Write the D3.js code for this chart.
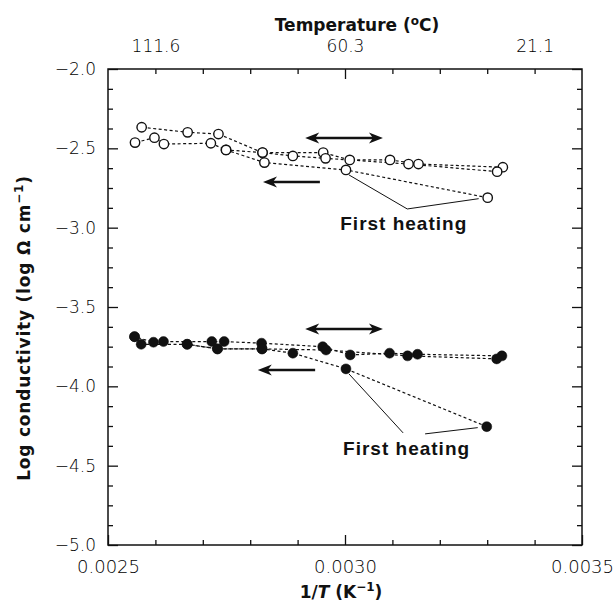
<!DOCTYPE html>
<html>
<head>
<meta charset="utf-8">
<script src="https://cdn.jsdelivr.net/npm/d3@7"></script>
<style>
  body { margin: 0; background: #fff; }
  .title { font-family: 'DejaVu Sans', sans-serif; font-weight: bold; fill: #111; }
  .note { font-family: 'Liberation Sans', sans-serif; font-weight: bold; fill: #111; }
</style>
</head>
<body>
<svg width="616" height="603"></svg>
<script>
// Open circles (upper set), three runs, read right to left
const openRun1X = [0.003301, 0.003002, 0.002830, 0.002749, 0.002717, 0.002618, 0.002598, 0.002557],
      openRun1Y = [-2.811, -2.636, -2.590, -2.510, -2.468, -2.473, -2.433, -2.464];
const openRun2X = [0.003333, 0.003155, 0.003095, 0.003010, 0.002954, 0.002826, 0.002733, 0.002668, 0.002571],
      openRun2Y = [-2.619, -2.599, -2.573, -2.573, -2.527, -2.527, -2.410, -2.399, -2.367];
const openRun3X = [0.003321, 0.003134, 0.002959, 0.002890, 0.002826, 0.002749],
      openRun3Y = [-2.647, -2.599, -2.563, -2.548, -2.527, -2.510];

// Filled circles (lower set)
const fillRun1X = [0.003299, 0.003002, 0.002890, 0.002825, 0.002731, 0.002667, 0.002570, 0.002556],
      fillRun1Y = [-4.254, -3.890, -3.791, -3.764, -3.764, -3.735, -3.735, -3.687];
const fillRun2X = [0.003331, 0.003153, 0.003094, 0.003011, 0.002953, 0.002824, 0.002745, 0.002719, 0.002617, 0.002596, 0.002556],
      fillRun2Y = [-3.808, -3.798, -3.791, -3.802, -3.750, -3.728, -3.718, -3.718, -3.718, -3.722, -3.687];
const fillRun3X = [0.003320, 0.003132, 0.002960, 0.002825, 0.002731, 0.002667],
      fillRun3Y = [-3.827, -3.808, -3.771, -3.764, -3.764, -3.735];

// Tick labels
const xTickValues = [0.0025, 0.0030, 0.0035],
      xTickLabels = ['0.0025', '0.0030', '0.0035'];
const yTickValues = [-2.0, -2.5, -3.0, -3.5, -4.0, -4.5, -5.0],
      yTickLabels = ['\u22122.0', '\u22122.5', '\u22123.0', '\u22123.5', '\u22124.0', '\u22124.5', '\u22125.0'];
const topTickValues = [0.0026, 0.0030, 0.0034],
      topTickLabels = ['111.6', '60.3', '21.1'];

// Annotations (data units)
const arrowsDouble = [[0.002916, 0.003080, -2.435], [0.002916, 0.003080, -3.638]],
      arrowsLeft = [[0.002947, 0.002827, -2.712], [0.002937, 0.002816, -3.897]];
const noteText = 'First heating',
      noteAt = [[0.002990, -3.0145], [0.002996, -4.432]];

const svg = d3.select('svg');
const plotL = 108, plotR = 582, plotT = 69, plotB = 545;

const x = d3.scaleLinear().domain([0.0025, 0.0035]).range([plotL, plotR]);
const y = d3.scaleLinear().domain([-5, -2]).range([plotB, plotT]);

// minor / major tick positions
const xMinor = d3.range(26, 35).map(d => d / 10000).filter(d => Math.abs(d - 0.003) > 1e-9);
const yMinor = d3.range(-40, -16).map(d => d / 8).filter(d => d % 0.5 !== 0);

function tickAxis(axis, tr) {
	const g = svg.append('g').attr('transform', tr).call(axis);
	g.select('.domain').remove();
	g.selectAll('line').attr('stroke', '#111').attr('stroke-width', 1.3);
	g.selectAll('text')
		.attr('fill', '#000')
		.attr('font-family', "'DejaVu Sans', sans-serif")
		.attr('font-weight', 300);
	return g;
}

// bottom ticks (inward)
tickAxis(d3.axisBottom(x).tickValues(xMinor).tickSize(-5).tickFormat(''), `translate(0,${plotB})`);
tickAxis(d3.axisBottom(x).tickValues(xTickValues).tickSize(-10)
	.tickFormat((d, i) => xTickLabels[i]), `translate(0,${plotB})`)
	.selectAll('text').attr('font-size', 18).attr('dy', '0.71em').attr('y', 15);

// top ticks
tickAxis(d3.axisTop(x).tickValues(xMinor).tickSize(-5).tickFormat(''), `translate(0,${plotT})`);
tickAxis(d3.axisTop(x).tickValues([0.003]).tickSize(-10).tickFormat(''), `translate(0,${plotT})`);
tickAxis(d3.axisTop(x).tickValues(topTickValues).tickSize(0).tickPadding(17)
	.tickFormat((d, i) => topTickLabels[i]), `translate(0,${plotT})`)
	.selectAll('text').attr('font-size', 17);

// left ticks
tickAxis(d3.axisLeft(y).tickValues(yMinor).tickSize(-5).tickFormat(''), `translate(${plotL},0)`);
tickAxis(d3.axisLeft(y).tickValues(yTickValues).tickSize(-10)
	.tickFormat((d, i) => yTickLabels[i]), `translate(${plotL},0)`)
	.selectAll('text').attr('font-size', 17).attr('x', -12);

// right ticks
tickAxis(d3.axisRight(y).tickValues(yMinor).tickSize(-5).tickFormat(''), `translate(${plotR},0)`);
tickAxis(d3.axisRight(y).tickValues(yTickValues).tickSize(-10).tickFormat(''), `translate(${plotR},0)`);

// frame
svg.append('rect')
	.attr('x', plotL).attr('y', plotT)
	.attr('width', plotR - plotL).attr('height', plotB - plotT)
	.attr('fill', 'none').attr('stroke', '#111').attr('stroke-width', 1.5);

// series
const series = [
	{ xs: openRun1X, ys: openRun1Y, filled: false },
	{ xs: openRun2X, ys: openRun2Y, filled: false },
	{ xs: openRun3X, ys: openRun3Y, filled: false },
	{ xs: fillRun1X, ys: fillRun1Y, filled: true },
	{ xs: fillRun2X, ys: fillRun2Y, filled: true },
	{ xs: fillRun3X, ys: fillRun3Y, filled: true }
];

const line = d3.line().x(d => x(d[0])).y(d => y(d[1]));

series.forEach(s => {
	const pts = s.xs.map((v, i) => [v, s.ys[i]]);
	svg.append('path')
		.attr('d', line(pts))
		.attr('fill', 'none')
		.attr('stroke', '#111')
		.attr('stroke-width', 1.2)
		.attr('stroke-dasharray', '3,2.5');
});

series.forEach(s => {
	const pts = s.xs.map((v, i) => [v, s.ys[i]]);
	svg.append('g').selectAll('circle')
		.data(pts)
		.enter()
		.append('circle')
		.attr('cx', d => x(d[0]))
		.attr('cy', d => y(d[1]))
		.attr('r', s.filled ? 5 : 4.7)
		.attr('fill', s.filled ? '#111' : '#fff')
		.attr('stroke', '#111')
		.attr('stroke-width', s.filled ? 0.5 : 1.4);
});

// arrows
function head(px, py, dir) {		// dir = -1 points left, +1 points right
	const L = 14, W = 5.5;
	return `M${px},${py} L${px - dir * L},${py - W} L${px - dir * (L - 4)},${py} L${px - dir * L},${py + W} Z`;
}

arrowsDouble.forEach(a => {
	const x0 = x(a[0]), x1 = x(a[1]), yy = y(a[2]);
	svg.append('line').attr('x1', x0 + 6).attr('x2', x1 - 6).attr('y1', yy).attr('y2', yy)
		.attr('stroke', '#111').attr('stroke-width', 2.5);
	svg.append('path').attr('d', head(x0, yy, -1)).attr('fill', '#111');
	svg.append('path').attr('d', head(x1, yy, 1)).attr('fill', '#111');
});

arrowsLeft.forEach(a => {
	const x0 = x(a[0]), x1 = x(a[1]), yy = y(a[2]);
	svg.append('line').attr('x1', x0).attr('x2', x1 + 6).attr('y1', yy).attr('y2', yy)
		.attr('stroke', '#111').attr('stroke-width', 2.5);
	svg.append('path').attr('d', head(x1, yy, -1)).attr('fill', '#111');
});

// "First heating" leaders: from the two first-heating points down to above the text
const leaders = [
	{ a: [openRun1X[1], openRun1Y[1]], b: [openRun1X[0], openRun1Y[0]], e1: [67, -21], e2: [67, -21] },
	{ a: [fillRun1X[1], fillRun1Y[1]], b: [fillRun1X[0], fillRun1Y[0]], e1: [60, -22], e2: [82, -21] }
];
leaders.forEach((l, i) => {
	const nx = x(noteAt[i][0]), ny = y(noteAt[i][1]);
	svg.append('line')
		.attr('x1', x(l.a[0]) + 3).attr('y1', y(l.a[1]) + 5)
		.attr('x2', nx + l.e1[0]).attr('y2', ny + l.e1[1])
		.attr('stroke', '#111').attr('stroke-width', 1);
	svg.append('line')
		.attr('x1', nx + l.e2[0]).attr('y1', ny + l.e2[1])
		.attr('x2', x(l.b[0]) - 9).attr('y2', y(l.b[1]) + 1)
		.attr('stroke', '#111').attr('stroke-width', 1);
	svg.append('text')
		.attr('class', 'note')
		.attr('x', nx).attr('y', ny)
		.attr('font-size', 19)
		.attr('letter-spacing', 1)
		.text(noteText);
});

// axis titles
svg.append('text').attr('class', 'title')
	.attr('x', 357).attr('y', 31).attr('text-anchor', 'middle').attr('font-size', 17)
	.call(t => {
		t.append('tspan').text('Temperature (');
		t.append('tspan').attr('dy', -6).attr('font-size', 12).text('o');
		t.append('tspan').attr('dy', 6).text('C)');
	});

svg.append('text').attr('class', 'title')
	.attr('x', 341).attr('y', 598).attr('text-anchor', 'middle').attr('font-size', 17)
	.call(t => {
		t.append('tspan').text('1/');
		t.append('tspan').attr('font-style', 'italic').text('T');
		t.append('tspan').text(' (K');
		t.append('tspan').attr('dy', -7).attr('font-size', 12).text('\u22121');
		t.append('tspan').attr('dy', 7).text(')');
	});

svg.append('text').attr('class', 'title')
	.attr('transform', 'translate(30,328) rotate(-90)')
	.attr('text-anchor', 'middle').attr('font-size', 17)
	.attr('letter-spacing', 0.8)
	.call(t => {
		t.append('tspan').text('Log conductivity  (log \u03A9 cm');
		t.append('tspan').attr('dy', -7).attr('font-size', 12).text('\u22121');
		t.append('tspan').attr('dy', 7).text(')');
	});
</script>
</body>
</html>
